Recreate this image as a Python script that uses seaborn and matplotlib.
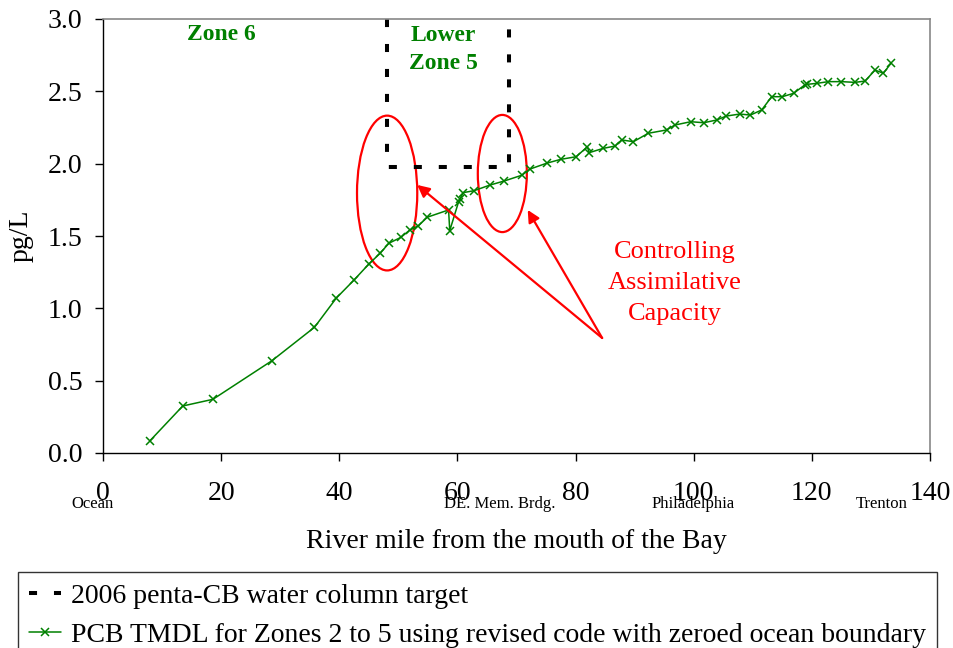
import numpy as np
import pandas as pd
import matplotlib
matplotlib.use('Agg')
import matplotlib.pyplot as plt
from matplotlib.patches import Ellipse
import seaborn as sns

# ===== 数据 =====
river_mile = [7.96, 13.5, 18.6, 28.6, 35.8, 39.5, 42.5, 45.0, 46.9, 48.4,
              50.4, 51.9, 53.4, 54.9, 58.5, 58.7, 60.2, 60.4, 61.0, 62.8,
              65.5, 67.9, 70.9, 72.3, 75.1, 77.5, 80.1, 82.0, 82.3, 84.7,
              86.7, 87.8, 89.8, 92.3, 95.4, 96.8, 99.5, 101.7, 103.9, 105.5,
              107.8, 109.6, 111.5, 113.2, 115.0, 116.9, 118.8, 119.1, 120.8, 122.8,
              125.0, 127.3, 129.0, 130.7, 132.1, 133.4]
pcb_tmdl = [0.085, 0.325, 0.371, 0.638, 0.869, 1.071, 1.196, 1.306, 1.38, 1.45,
            1.49, 1.54, 1.571, 1.63, 1.68, 1.537, 1.737, 1.756, 1.80, 1.813,
            1.852, 1.88, 1.92, 1.963, 2.003, 2.03, 2.048, 2.117, 2.076, 2.106,
            2.122, 2.164, 2.152, 2.21, 2.233, 2.267, 2.29, 2.283, 2.302, 2.329,
            2.343, 2.336, 2.371, 2.463, 2.463, 2.486, 2.544, 2.548, 2.555, 2.567,
            2.567, 2.562, 2.571, 2.647, 2.625, 2.694]

target_mile = [48.1, 48.1, 68.8, 68.8]
target_conc = [3.0, 1.98, 1.98, 3.0]

place_names = ['Ocean', 'DE. Mem. Brdg.', 'Philadelphia', 'Trenton']
place_mile = [-1.7, 67.2, 99.9, 131.9]

label_target = '2006 penta-CB water column target'
label_tmdl = 'PCB TMDL for Zones 2 to 5 using revised code with zeroed ocean boundary'

df_tmdl = pd.DataFrame({'mile': river_mile, 'conc': pcb_tmdl})
df_target = pd.DataFrame({'mile': target_mile, 'conc': target_conc})

# ===== 设置 =====
sns.set_style('white')
plt.rcParams['font.family'] = ['Liberation Serif', 'DejaVu Serif']
plt.rcParams['font.size'] = 20
plt.rcParams['text.color'] = 'black'
plt.rcParams['axes.labelcolor'] = 'black'
plt.rcParams['xtick.color'] = 'black'
plt.rcParams['ytick.color'] = 'black'

fig = plt.figure(figsize=(9.54, 6.48), dpi=100)
ax = fig.add_axes([103 / 954, 1 - 453 / 648, 827 / 954, 434 / 648])

sns.lineplot(data=df_target, x='mile', y='conc', sort=False, estimator=None,
             color='black', linewidth=2.9, ax=ax, label=label_target)
ax.lines[-1].set_dashes((2, 4.2))
ax.lines[-1].set_dash_capstyle('butt')

sns.lineplot(data=df_tmdl, x='mile', y='conc', sort=False, estimator=None,
             color='green', linewidth=1.1, marker='x', markersize=6,
             markeredgewidth=1.1, markeredgecolor='green', ax=ax, label=label_tmdl)

ax.set_xlim(0, 140)
ax.set_ylim(0, 3.0)
ax.set_xticks(np.arange(0, 141, 20))
ax.set_yticks(np.arange(0, 3.01, 0.5))
ax.set_yticklabels([f'{v:.1f}' for v in np.arange(0, 3.01, 0.5)])
ax.tick_params(axis='both', direction='out', length=6, width=1, colors='black',
               labelsize=20, bottom=True, left=True)
ax.tick_params(axis='x', pad=14)
ax.tick_params(axis='y', pad=9)
for side in ['left', 'bottom']:
    ax.spines[side].set_color('black')
    ax.spines[side].set_linewidth(1)
for side in ['top', 'right']:
    ax.spines[side].set_color('#888888')
    ax.spines[side].set_linewidth(1.2)

ax.set_xlabel('River mile from the mouth of the Bay', fontsize=20, labelpad=17)
ax.set_ylabel('pg/L', fontsize=20, labelpad=10)

# 地名标注
trans = ax.get_xaxis_transform()
for name, m in zip(place_names, place_mile):
    ax.text(m, -0.118, name, transform=trans, ha='center', va='center', fontsize=12)

# 区域文字
ax.text(20.1, 2.896, 'Zone 6', color='green', fontweight='bold', fontsize=17,
        ha='center', va='center')
ax.text(57.6, 2.79, 'Lower\nZone 5', color='green', fontweight='bold', fontsize=17,
        ha='center', va='center', linespacing=1.4)

# 红色椭圆和箭头
ax.add_patch(Ellipse((48.1, 1.797), 10.2, 1.07, fill=False, edgecolor='red', linewidth=1.6))
ax.add_patch(Ellipse((67.6, 1.932), 8.3, 0.81, fill=False, edgecolor='red', linewidth=1.6))
for hx, hy in [(53.2, 1.853), (71.9, 1.68)]:
    ax.annotate('', xy=(hx, hy), xytext=(84.5, 0.795),
                arrowprops=dict(arrowstyle='-|>', color='red', lw=1.6, mutation_scale=18,
                                shrinkA=0, shrinkB=0))
ax.text(96.8, 1.175, 'Controlling\nAssimilative\nCapacity', color='red', fontsize=19,
        ha='center', va='center', linespacing=1.55)

# 图例
handles, labels = ax.get_legend_handles_labels()
ax.get_legend().remove()
leg = fig.legend(handles, labels, loc='upper left', bbox_to_anchor=(18 / 954, 1 - 572 / 648),
                 fontsize=20, frameon=True, fancybox=False, borderpad=0.4,
                 handlelength=1.15, handletextpad=0.35, labelspacing=0.5,
                 borderaxespad=0)
leg.get_frame().set_edgecolor('black')
leg.get_frame().set_linewidth(1)

fig.savefig('out.png', dpi=100)
